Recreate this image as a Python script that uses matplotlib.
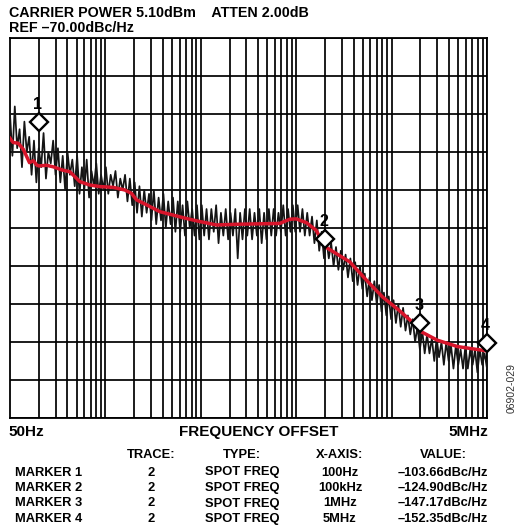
import numpy as np
import matplotlib.pyplot as plt
from matplotlib.ticker import FixedLocator
from matplotlib.transforms import offset_copy

plt.rcParams['font.family'] = ['Liberation Sans', 'DejaVu Sans']
plt.rcParams['font.weight'] = 'bold'

# averaged phase-noise trace (red), frequency offset in Hz vs dBc/Hz
avg_freq = [50, 54, 61, 69, 80, 88, 95, 100,
            121, 142, 174, 212, 270, 344, 438, 603,
            800, 940, 1060, 1350, 1860, 2560, 3540, 4880,
            7300, 12.8e3, 20.7e3, 33.6e3, 42.8e3, 50e3, 64e3, 81e3,
            100e3, 182e3, 272e3, 400e3, 595e3, 890e3, 1e6, 1.5e6,
            2.45e6, 5e6]
avg_dbc = [-96.4, -97.5, -97.7, -99.3, -102.8, -102.3, -103.4, -103.66,
           -103.5, -103.9, -104.7, -105.2, -107.8, -108.7, -109.1, -109.3,
           -110.0, -110.9, -112.6, -113.9, -115.7, -116.6, -117.5, -118.3,
           -119.2, -119.0, -118.9, -118.8, -117.7, -117.6, -118.6, -120.6,
           -124.9, -128.9, -133.7, -138.1, -141.6, -145.5, -147.17, -149.5,
           -151.2, -152.35]

# raw sweep (black), one reading per log-spaced sweep point from 50Hz to 5MHz
raw_dbc = [
    -90, -101, -88, -99, -94, -104, -92, -100, -96, -106,
    -97, -108, -99, -104, -95, -107, -100, -103, -97, -106,
    -99, -108, -101, -110, -100, -106, -102, -109, -101, -111,
    -104, -110, -102, -112, -105, -109, -103, -111, -106, -110,
    -104, -111, -106, -109, -105, -112, -107, -110, -106, -113,
    -107, -114, -108, -116, -109, -117, -110, -116, -111, -118,
    -110, -119, -112, -118, -111, -120, -113, -119, -112, -121,
    -113, -121, -114, -122, -113, -120, -115, -122, -114, -123,
    -114, -122, -115, -123, -115, -121, -114, -124, -116, -122,
    -115, -123, -116, -122, -115, -128, -116, -123, -115, -122,
    -115, -123, -116, -122, -115, -124, -116, -123, -115, -122,
    -115, -122, -116, -121, -114, -122, -115, -121, -114, -121,
    -114, -121, -115, -122, -116, -122, -117, -124, -118, -126,
    -121, -128, -123, -128, -124, -130, -125, -131, -126, -131,
    -127, -133, -128, -134, -129, -135, -130, -136, -132, -138,
    -133, -139, -134, -140, -135, -142, -137, -143, -138, -144,
    -139, -145, -140, -146, -141, -147, -143, -148, -144, -150,
    -146, -152, -147, -153, -148, -153, -149, -155, -149, -154,
    -150, -156, -150, -155, -151, -157, -151, -156, -152, -157,
    -151, -157, -152, -156, -152, -158, -152, -156, -153, -157,
]

# marker table
marker_names = ['MARKER 1', 'MARKER 2', 'MARKER 3', 'MARKER 4']
marker_trace = [2, 2, 2, 2]
marker_type = ['SPOT FREQ'] * 4
marker_freq = [100, 100e3, 1e6, 5e6]
marker_xlabel = ['100Hz', '100kHz', '1MHz', '5MHz']
marker_value = [-103.66, -124.90, -147.17, -152.35]

# vertical grid: 1, 1.5 ... 5 x each decade
grid_freq = [d * m for d in (100, 1e3, 10e3, 100e3, 1e6)
             for m in (1, 1.5, 2, 2.5, 3, 3.5, 4, 4.5, 5)]

W, H = 519, 529
fig = plt.figure(figsize=(W / 100, H / 100), dpi=100)
ax = fig.add_axes([10 / W, 1 - 418 / H, 477 / W, 380 / H])

sweep_freq = np.geomspace(50, 5e6, len(raw_dbc))
ax.plot(sweep_freq, raw_dbc, color='#141414', lw=1.25, zorder=3)
ax.plot(avg_freq, avg_dbc, color='#d8152b', lw=2.5, zorder=4)

ax.set_xscale('log')
ax.set_xlim(50, 5e6)
ax.set_ylim(-170, -70)
ax.xaxis.set_major_locator(FixedLocator(grid_freq))
ax.xaxis.set_minor_locator(FixedLocator([]))
ax.yaxis.set_major_locator(FixedLocator(np.arange(-170, -69, 10)))
ax.grid(True, color='black', lw=1.25)
ax.tick_params(length=0, labelbottom=False, labelleft=False)
for sp in ax.spines.values():
    sp.set_linewidth(1.3)

# diamonds sit just above the trace point, number above the diamond
lift = [31.5, 5.3, 6, 5.5]
for i, (f, v) in enumerate(zip(marker_freq, marker_value)):
    tr = offset_copy(ax.transData, fig=fig, x=0, y=lift[i], units='points')
    ax.plot([f], [v], marker='D', ms=9.5, mfc='white', mec='black', mew=1.7,
            transform=tr, clip_on=False, zorder=6)
    tr2 = offset_copy(ax.transData, fig=fig, x=-1, y=lift[i] + 12.5, units='points')
    ax.text(f, v, str(i + 1), transform=tr2, ha='center', va='center',
            fontsize=11.5, zorder=7, clip_on=False)


def ftxt(x, y, s, **kw):
    fig.text(x / W, 1 - y / H, s, va='center', **kw)


ftxt(9, 13, 'CARRIER POWER 5.10dBm    ATTEN 2.00dB', fontsize=10.3)
ftxt(9, 28, 'REF \u201370.00dBc/Hz', fontsize=10.3)
ftxt(8, 432, '50Hz', fontsize=11)
ftxt(259, 432, 'FREQUENCY OFFSET', fontsize=11, ha='center')
ftxt(488, 432, '5MHz', fontsize=11, ha='right')

cols = [151, 242, 340, 443]
heads = ['TRACE:', 'TYPE:', 'X-AXIS:', 'VALUE:']
for cx, h in zip(cols, heads):
    ftxt(cx, 455, h, fontsize=9.3, ha='center')
for r in range(4):
    y = 472.5 + 15.5 * r
    ftxt(15, y, marker_names[r], fontsize=9.3)
    ftxt(cols[0], y, str(marker_trace[r]), fontsize=9.3, ha='center')
    ftxt(cols[1], y, marker_type[r], fontsize=9.3, ha='center')
    ftxt(cols[2], y, marker_xlabel[r], fontsize=9.3, ha='center')
    ftxt(cols[3], y, '\u2013{:.2f}dBc/Hz'.format(abs(marker_value[r])),
         fontsize=9.3, ha='center')

fig.text(512 / W, 1 - 388 / H, '06902-029', rotation=90, fontsize=7.5,
         fontweight='normal', color='#333333', ha='center', va='center')

fig.savefig('out.png', dpi=100)
